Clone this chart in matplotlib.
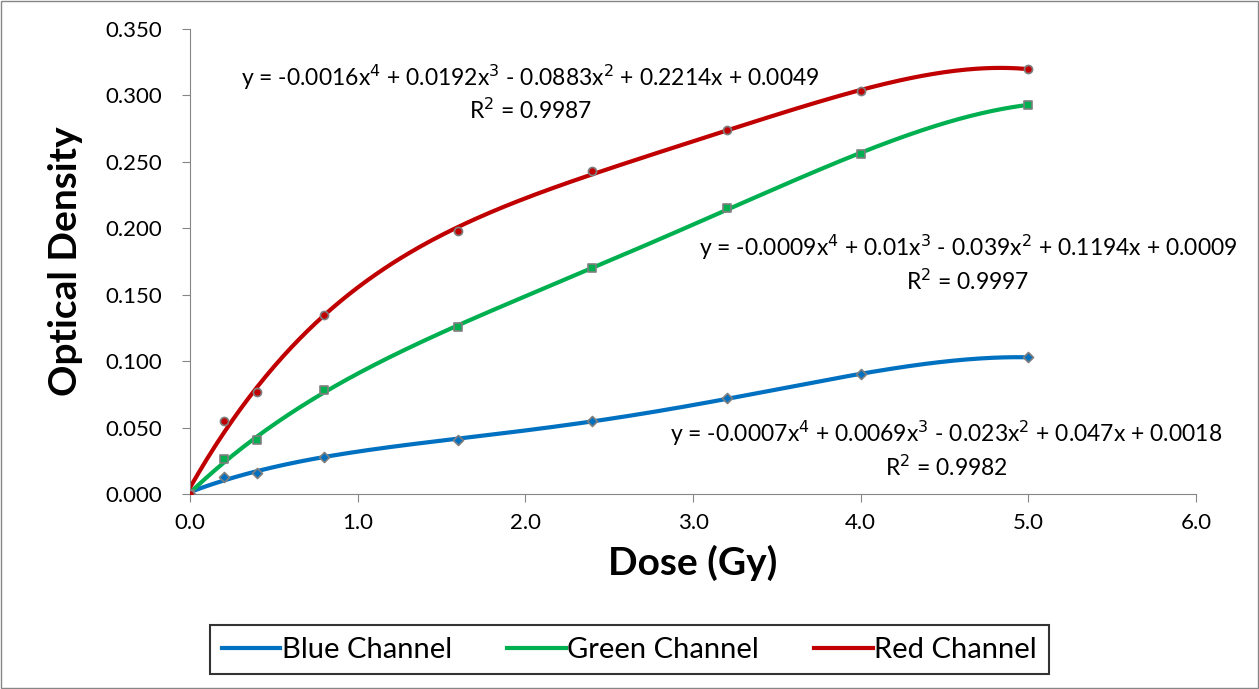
import matplotlib.pyplot as plt
import numpy as np

plt.rcParams['font.family'] = ['Lato', 'DejaVu Sans']

dose = [0, 0.2, 0.4, 0.8, 1.6, 2.4, 3.2, 4.0, 5.0]
blue = [0.000, 0.013, 0.016, 0.028, 0.041, 0.055, 0.072, 0.090, 0.103]
green = [0.000, 0.026, 0.041, 0.078, 0.126, 0.170, 0.215, 0.256, 0.293]
red = [0.000, 0.055, 0.077, 0.135, 0.198, 0.243, 0.274, 0.303, 0.320]

labels = ['Blue Channel', 'Green Channel', 'Red Channel']
colors = ['#0070C0', '#00B050', '#C00000']
markers = ['D', 's', 'o']
eqs = ['y = -0.0007x$^4$ + 0.0069x$^3$ - 0.023x$^2$ + 0.047x + 0.0018\nR$^2$ = 0.9982',
       'y = -0.0009x$^4$ + 0.01x$^3$ - 0.039x$^2$ + 0.1194x + 0.0009\nR$^2$ = 0.9997',
       'y = -0.0016x$^4$ + 0.0192x$^3$ - 0.0883x$^2$ + 0.2214x + 0.0049\nR$^2$ = 0.9987']
eq_pos = [(4.51, 0.0335), (4.64, 0.1735), (2.03, 0.302)]

fig = plt.figure(figsize=(12.59, 6.89), dpi=100)
ax = fig.add_axes([0.151, 0.283, 0.799, 0.675])

# trendlines: 4th order polynomial fit of each channel
x = np.array(dose)
xs = np.linspace(0, 5, 300)
for y, c, m, lab, eq, pos in zip([blue, green, red], colors, markers, labels, eqs, eq_pos):
    y = np.array(y)
    p = np.polyfit(x, y, 4)
    ax.plot(xs, np.polyval(p, xs), color=c, linewidth=3, label=lab, zorder=2)
    ax.scatter(x, y, marker=m, s=34 if m != 'D' else 26, color=c,
               edgecolors='#7f7f7f', linewidths=1.2, zorder=3)
    ax.text(pos[0], pos[1], eq, ha='center', va='center', fontsize=16.5,
            linespacing=1.3, zorder=4)

ax.set_xlim(0, 6)
ax.set_ylim(0, 0.35)
ax.set_xticks(np.arange(0, 6.1, 1.0))
ax.set_xticklabels(['%.1f' % v for v in np.arange(0, 6.1, 1.0)])
ax.set_yticks(np.arange(0, 0.351, 0.05))
ax.set_yticklabels(['%.3f' % v for v in np.arange(0, 0.351, 0.05)])
ax.tick_params(axis='both', labelsize=16, direction='out', length=6, color='#868686')
ax.tick_params(axis='y', pad=14)
ax.tick_params(axis='x', pad=8)
ax.spines['top'].set_visible(False)
ax.spines['right'].set_visible(False)
ax.spines['left'].set_color('#868686')
ax.spines['bottom'].set_color('#868686')
ax.set_xlabel('Dose (Gy)', fontsize=28, fontweight='bold', labelpad=8)
ax.set_ylabel('Optical Density', fontsize=28, fontweight='bold', labelpad=16)

leg = fig.legend(loc='center', bbox_to_anchor=(0.5, 0.057), ncol=3, fontsize=21,
                 frameon=True, fancybox=False, edgecolor='black',
                 handlelength=2.0, handletextpad=0.05, columnspacing=1.9,
                 borderpad=0.4, borderaxespad=0)
leg.get_frame().set_linewidth(1.5)

fig.patches.append(plt.Rectangle((0.001, 0.001), 0.998, 0.998, transform=fig.transFigure,
                                 fill=False, edgecolor='#868686', linewidth=1))

fig.savefig('out.png', dpi=100)
